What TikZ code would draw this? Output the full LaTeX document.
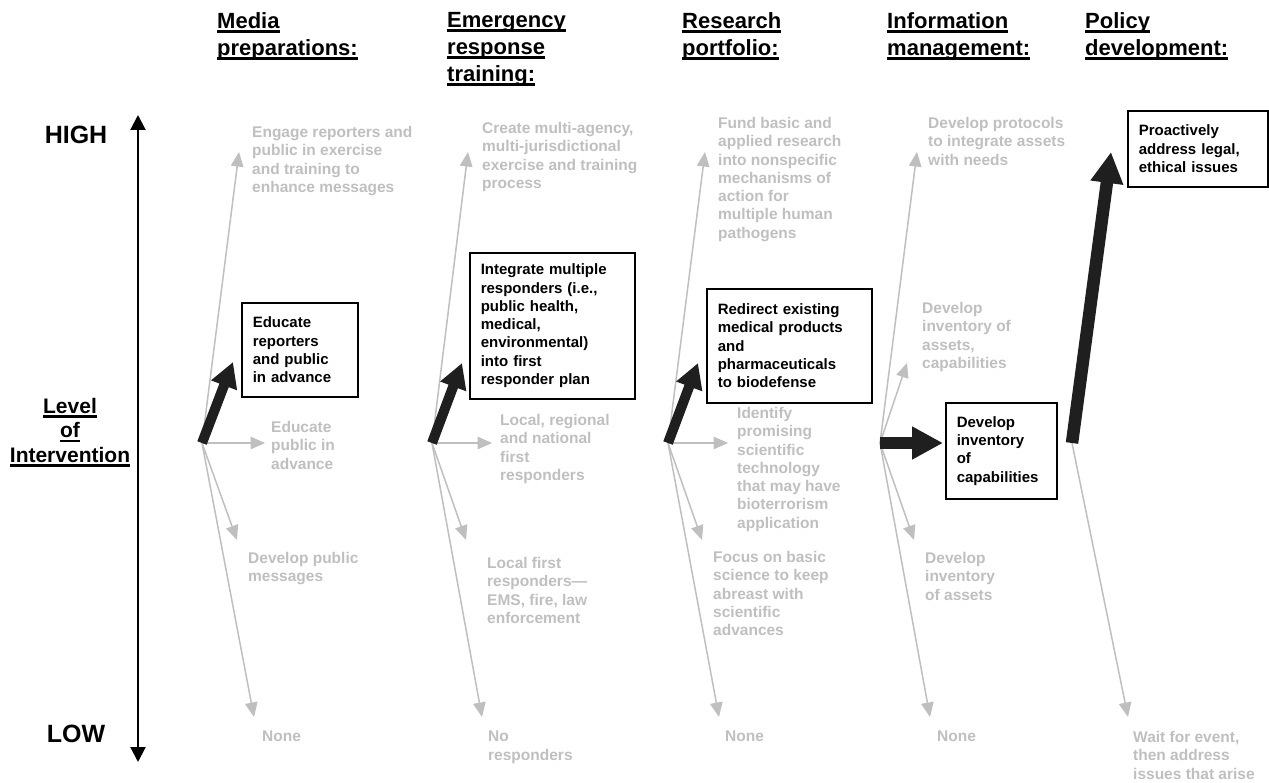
\documentclass[tikz,border=0pt]{standalone}
\usepackage{fontspec}
\setmainfont{Liberation Sans}
\usetikzlibrary{arrows.meta}

\definecolor{fadegray}{HTML}{BFBFBF}
\definecolor{pickblack}{HTML}{1F1F1F}

% underline as the original draws it, not pushed down by descenders
\newsavebox\hulbox
\newcommand{\hul}[1]{\sbox\hulbox{#1}\rlap{\rule[-0.21em]{\wd\hulbox}{0.12em}}\usebox\hulbox}

\begin{document}
\begin{tikzpicture}[x=1pt, y=-1pt]
        % Define block styles
        \tikzstyle{colhead} = [inner sep=0, anchor=north west, align=left,
            font=\fontsize{22}{27}\selectfont\bfseries]
        \tikzstyle{extreme} = [inner sep=0, font=\fontsize{25}{30}\selectfont\bfseries]
        \tikzstyle{choice} = [rectangle, draw, line width=1.6pt, fill=white, anchor=north west,
            inner xsep=11pt, inner ysep=0pt, align=left, font=\fontsize{15}{18.3}\selectfont\bfseries]
        \tikzstyle{option} = [inner sep=0, anchor=north west, align=left, text=fadegray,
            font=\fontsize{15.5}{18.3}\selectfont\bfseries]
        \tikzstyle{axis} = [draw, line width=2.2pt,
            {Triangle[width=15pt,length=15pt]}-{Triangle[width=15pt,length=15pt]}]
        \tikzstyle{line} = [draw=fadegray, line width=1.5pt, -{Triangle[width=12.5pt,length=14.5pt]}]
        \tikzstyle{pick} = [draw=pickblack, line width=10pt, -{Triangle[width=26pt,length=25pt]}]
        \tikzstyle{bigpick} = [draw=pickblack, line width=12.5pt, -{Triangle[width=31pt,length=31pt]}]

        \useasboundingbox (0,0) rectangle (1269,783);

        % Headers
        \node [colhead] (media) at (217,12) {\hul{Media}\\\hul{preparations:}};
        \node [colhead] (emerg) at (447,12) {\hul{Emergency}\\\hul{response}\\\hul{training:}};
        \node [colhead] (research) at (682,12) {\hul{Research}\\\hul{portfolio:}};
        \node [colhead] (info) at (887,12) {\hul{Information}\\\hul{management:}};
        \node [colhead] (policy) at (1085,12) {\hul{Policy}\\\hul{development:}};

        % Scale
        \node [extreme] (high) at (76,134.5) {HIGH};
        \node [extreme] (low) at (76,734) {LOW};
        \node [inner sep=0, anchor=north, align=center, font=\fontsize{21}{24.5}\selectfont\bfseries]
            (lvl) at (70,398) {\hul{Level}\\\hul{of}\\\hul{Intervention}};
        \coordinate (axtop) at (138,115);
        \coordinate (axbot) at (138,762);
        \path [axis] (axbot) -- (axtop);

        % Nodes
        \node [option] (engage) at (252,126) {Engage reporters and\\public in exercise\\and training to\\enhance messages};
        \node [choice, text width=94pt, minimum height=94pt] (edu) at (241,302) {Educate\\reporters\\and public\\in advance};
        \node [option] (edupub) at (271,421) {Educate\\public in\\advance};
        \node [option] (devmsg) at (248,552) {Develop public\\messages};
        \node [option] (none1) at (262,731) {None};

        \node [option] (create) at (482,122) {Create multi-agency,\\multi-jurisdictional\\exercise and training\\process};
        \node [choice, text width=143pt, minimum height=146pt] (integ) at (469,252) {Integrate multiple\\responders (i.e.,\\public health,\\medical,\\environmental)\\into first\\responder plan};
        \node [option] (regional) at (500,414) {Local, regional\\and national\\first\\responders};
        \node [option] (localfr) at (487,557) {Local first\\responders---\\EMS, fire, law\\enforcement};
        \node [option] (noresp) at (488,731) {No\\responders};

        \node [option] (fund) at (718,117) {Fund basic and\\applied research\\into nonspecific\\mechanisms of\\action for\\multiple human\\pathogens};
        \node [choice, text width=143pt, minimum height=114pt] (redirect) at (706,288) {Redirect existing\\medical products\\and\\pharmaceuticals\\to biodefense};
        \node [option] (identify) at (737,407) {Identify\\promising\\scientific\\technology\\that may have\\bioterrorism\\application};
        \node [option] (focus) at (713,551) {Focus on basic\\science to keep\\abreast with\\scientific\\advances};
        \node [option] (none3) at (725,731) {None};

        \node [option] (protocols) at (928,117) {Develop protocols\\to integrate assets\\with needs};
        \node [option] (invboth) at (922,302) {Develop\\inventory of\\assets,\\capabilities};
        \node [choice, text width=89pt, minimum height=96pt] (invcap) at (945,402) {Develop\\inventory\\of\\capabilities};
        \node [option] (invassets) at (925,552) {Develop\\inventory\\of assets};
        \node [option] (none4) at (937,731) {None};

        \node [choice, text width=118pt, minimum height=76pt] (legal) at (1127,110) {Proactively\\address legal,\\ethical issues};
        \node [option] (wait) at (1133,731) {Wait for event,\\then address\\issues that arise};

        % Fan points
        \coordinate (o1) at (202,443);
        \coordinate (o1hi) at (239,152);
        \coordinate (o1up) at (233,362);
        \coordinate (o1mid) at (265,443);
        \coordinate (o1lo) at (237,540);
        \coordinate (o1none) at (254,717);

        \coordinate (o2) at (432,443);
        \coordinate (o2hi) at (468,152);
        \coordinate (o2up) at (462,363);
        \coordinate (o2mid) at (492,443);
        \coordinate (o2lo) at (466,540);
        \coordinate (o2none) at (482,717);

        \coordinate (o3) at (668,443);
        \coordinate (o3hi) at (705,152);
        \coordinate (o3up) at (698,363);
        \coordinate (o3mid) at (728,443);
        \coordinate (o3lo) at (702,540);
        \coordinate (o3none) at (719,717);

        \coordinate (o4) at (880,443);
        \coordinate (o4hi) at (917,152);
        \coordinate (o4up) at (907,363);
        \coordinate (o4mid) at (943,443);
        \coordinate (o4lo) at (914,540);
        \coordinate (o4none) at (930,717);

        \coordinate (o5) at (1072,443);
        \coordinate (o5up) at (1111,152);
        \coordinate (o5none) at (1128,717);

        % Arrows
        \path [line] (o1) -- (o1hi);
        \path [line] (o1) -- (o1mid);
        \path [line] (o1) -- (o1lo);
        \path [line] (o1) -- (o1none);
        \path [pick] (o1) -- (o1up);

        \path [line] (o2) -- (o2hi);
        \path [line] (o2) -- (o2mid);
        \path [line] (o2) -- (o2lo);
        \path [line] (o2) -- (o2none);
        \path [pick] (o2) -- (o2up);

        \path [line] (o3) -- (o3hi);
        \path [line] (o3) -- (o3mid);
        \path [line] (o3) -- (o3lo);
        \path [line] (o3) -- (o3none);
        \path [pick] (o3) -- (o3up);

        \path [line] (o4) -- (o4hi);
        \path [line] (o4) -- (o4up);
        \path [line] (o4) -- (o4lo);
        \path [line] (o4) -- (o4none);
        \path [bigpick] (o4) -- (o4mid);

        \path [line] (o5) -- (o5none);
        \path [bigpick] (o5) -- (o5up);
\end{tikzpicture}
\end{document}
